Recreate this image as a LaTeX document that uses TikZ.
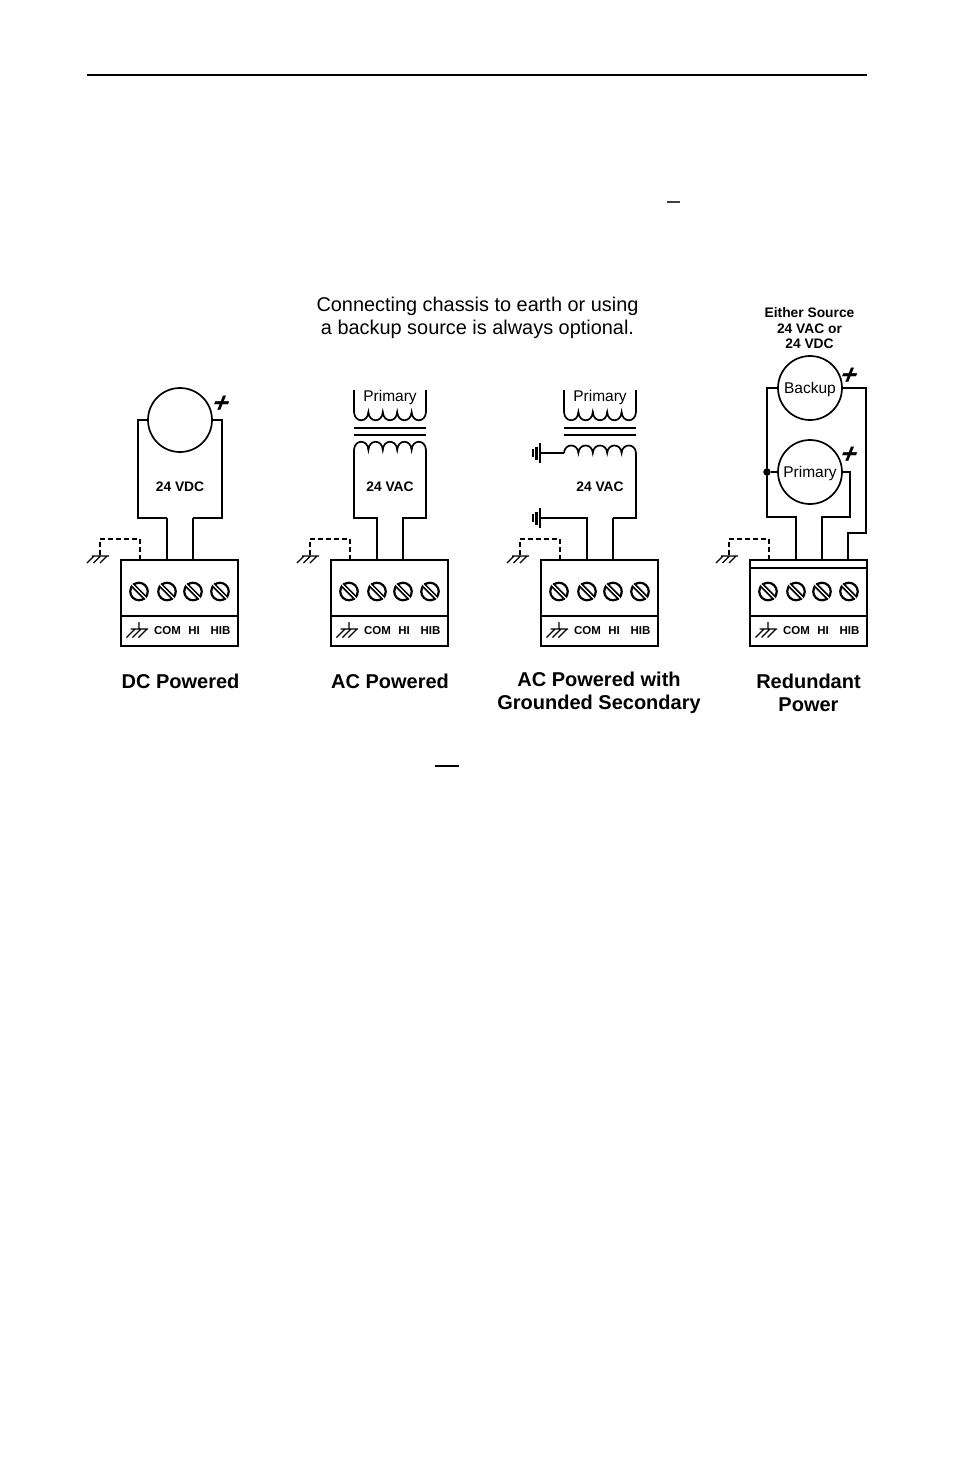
\documentclass[tikz,border=0pt]{standalone}
\usepackage{fontspec}
\setmainfont{Liberation Sans}
\newfontfamily\plusfont[BoldFeatures={FakeSlant=0.4}]{Liberation Sans}
\tikzset{
  wire/.style={line width=1.7pt,line join=miter},
  heavywire/.style={line width=2.1pt,line join=miter},
  thinline/.style={line width=1.2pt},
  dashwire/.style={line width=1.5pt,dash pattern=on 5pt off 3pt},
  blockbox/.style={draw,line width=1.6pt,minimum width=117pt,minimum height=86pt,inner sep=0pt,outer sep=0pt,anchor=north west},
  termlabel/.style={font=\bfseries\fontsize{11.5}{13}\selectfont,inner sep=0pt},
  srcval/.style={font=\bfseries\fontsize{13.8}{16}\selectfont,inner sep=0pt},
  srcname/.style={font=\fontsize{15.5}{17}\selectfont,inner sep=0pt},
  caption/.style={font=\bfseries\fontsize{20}{23}\selectfont,align=center,inner sep=0pt},
  note/.style={font=\fontsize{19.9}{23}\selectfont,align=center,inner sep=0pt},
  srcring/.style={circle,draw,line width=1.7pt,minimum size=64pt,inner sep=0pt,outer sep=0pt},
  plussign/.style={font=\plusfont\bfseries\fontsize{28}{28}\selectfont,inner sep=0pt},
}
\newcommand{\termblock}[2]{%
  \begin{scope}[shift={(#2,0)},name prefix=#1-]
    \node[blockbox] (box) at (121,560) {};
    \coordinate (dl) at (121,616);
    \coordinate (dr) at (238,616);
    \draw[wire] (dl) -- (dr);
    \foreach \sx/\sn in {139/a,167/b,193/c,220/d}{
      \node[circle,draw,fill=white,line width=2.2pt,minimum size=17.5pt,inner sep=0pt] (screw\sn) at (\sx,591.5) {};
      \draw[line width=4.6pt] (screw\sn.135) -- (screw\sn.-45);
      \draw[white,line width=1.3pt] (screw\sn.135) -- (screw\sn.-45);
    }
    \draw[thinline] (139,622) -- (139,629) (130.5,629) -- (148,629)
      (135,629) -- (126.5,637.5) (141,629) -- (132.5,637.5) (147,629) -- (138.5,637.5);
    \node[termlabel] (com) at (167.5,631) {COM};
    \node[termlabel] (hi) at (194,631) {HI};
    \node[termlabel] (hib) at (220.5,631) {HIB};
    \coordinate (tc) at (140,560);
    \coordinate (tc1) at (140,539);
    \coordinate (tc2) at (100,539);
    \coordinate (tc3) at (100,556);
    \draw[dashwire] (tc) -- (tc1) -- (tc2) -- (tc3);
    \draw[thinline] (92,556) -- (109,556)
      (94,556) -- (87,563) (100.5,556) -- (93.5,563) (107,556) -- (100,563);
    \coordinate (p1) at (167,560);
    \coordinate (p2) at (193,560);
    \coordinate (p3) at (219,560);
  \end{scope}%
}
\newcommand{\coilpath}[3]{%
  \draw[wire] (#1,#2)
    \foreach \k in {0,1,2,3,4}{
      .. controls ({#1+14.4*\k+0.5},{#2+#3}) and ({#1+14.4*\k+13.9},{#2+#3}) .. ({#1+14.4*\k+14.4},#2)
    };%
}
\newcommand{\earthplate}[3]{%
  \coordinate (#1) at (#2,#3);
  \draw[line width=2.2pt] (#2,#3-10) -- (#2,#3+10);
  \draw[line width=2.2pt] (#2-3.5,#3-6.5) -- (#2-3.5,#3+6.5);
  \draw[line width=2.2pt] (#2-7,#3-4) -- (#2-7,#3+4);
}
\begin{document}
\begin{tikzpicture}[x=1pt,y=-1pt]
\useasboundingbox (0,0) rectangle (954,1475);
\fill[white] (0,0) rectangle (954,1475);
\coordinate (ruleL) at (87,75);
\coordinate (ruleR) at (867,75);
\draw[line width=2pt] (ruleL) -- (ruleR);
\coordinate (m1) at (667,202);
\coordinate (m2) at (680,202);
\draw[line width=1.1pt,black!75] (m1) -- (m2);
\coordinate (m3) at (435,766);
\coordinate (m4) at (459,766);
\draw[line width=1.4pt] (m3) -- (m4);
\node[note] (headnote) at (477.5,317.5) {Connecting chassis to earth or using\\[0pt]a backup source is always optional.};

% ---- DC powered
\termblock{a}{0}
\node[srcring] (dcsrc) at (180,420) {};
\node[plussign] (dcplus) at (218,404) {+};
\node[srcval] (dcval) at (180,487) {24 VDC};
\coordinate (a1) at (138,420);
\coordinate (a2) at (138,518);
\coordinate (a3) at (167,518);
\coordinate (a4) at (222,420);
\coordinate (a5) at (222,518);
\coordinate (a6) at (193,518);
\draw[wire] (dcsrc.west) -- (a1) -- (a2) -- (a3);
\draw[heavywire] (a3) -- (a-p1);
\draw[wire] (dcsrc.east) -- (a4) -- (a5) -- (a6);
\draw[heavywire] (a6) -- (a-p2);
\node[caption] (capa) at (180.5,681) {DC Powered};

% ---- AC powered
\termblock{b}{210}
\node[srcname] (bprim) at (390,397) {Primary};
\coordinate (bp1) at (354,390);
\coordinate (bp2) at (354,412);
\coordinate (bp3) at (426,390);
\coordinate (bp4) at (426,412);
\draw[wire] (bp1) -- (bp2);
\draw[wire] (bp3) -- (bp4);
\coilpath{354}{412}{11}
\coordinate (bb1) at (354,428); \coordinate (bb2) at (426,428);
\coordinate (bb3) at (354,435); \coordinate (bb4) at (426,435);
\draw[wire] (bb1) -- (bb2);
\draw[wire] (bb3) -- (bb4);
\coilpath{354}{450}{-11}
\coordinate (bs1) at (354,450); \coordinate (bs2) at (354,518); \coordinate (bs3) at (377,518);
\coordinate (bs4) at (426,450); \coordinate (bs5) at (426,518); \coordinate (bs6) at (403,518);
\draw[wire] (bs1) -- (bs2) -- (bs3) -- (b-p1);
\draw[wire] (bs4) -- (bs5) -- (bs6) -- (b-p2);
\node[srcval] (bval) at (390,487) {24 VAC};
\node[caption] (capb) at (390,681) {AC Powered};

% ---- AC powered with grounded secondary
\termblock{c}{420}
\node[srcname] (cprim) at (600,397) {Primary};
\coordinate (cp1) at (564,390);
\coordinate (cp2) at (564,412);
\coordinate (cp3) at (636,390);
\coordinate (cp4) at (636,412);
\draw[wire] (cp1) -- (cp2);
\draw[wire] (cp3) -- (cp4);
\coilpath{564}{412}{11}
\coordinate (cb1) at (564,428); \coordinate (cb2) at (636,428);
\coordinate (cb3) at (564,435); \coordinate (cb4) at (636,435);
\draw[wire] (cb1) -- (cb2);
\draw[wire] (cb3) -- (cb4);
\coilpath{564}{453}{-10}
\earthplate{ce1}{540}{453}
\earthplate{ce2}{540}{518}
\coordinate (cs1) at (564,453);
\draw[wire] (ce1) -- (cs1);
\coordinate (cs2) at (587,518);
\draw[wire] (ce2) -- (cs2) -- (c-p1);
\coordinate (cs4) at (636,453); \coordinate (cs5) at (636,518); \coordinate (cs6) at (613,518);
\draw[wire] (cs4) -- (cs5) -- (cs6);
\draw[heavywire] (cs6) -- (c-p2);
\node[srcval] (cval) at (600,487) {24 VAC};
\node[caption] (capc) at (599,693) {AC Powered with\\[0pt]Grounded Secondary};

% ---- Redundant
\termblock{d}{629}
\coordinate (dl1) at (750,568);
\coordinate (dl2) at (866,568);
\draw[thinline] (dl1) -- (dl2);
\node[srcval,font=\bfseries\fontsize{13.8}{15.5}\selectfont,align=center] (dsrc) at (809.5,328.5) {Either Source\\24 VAC or\\24 VDC};
\node[srcring] (backup) at (810,388) {};
\node[srcname] (backupt) at (810,389.5) {Backup};
\node[srcring] (primary) at (810,472) {};
\node[srcname] (primaryt) at (810,473) {Primary};
\node[plussign] (dplus1) at (846,376) {+};
\node[plussign] (dplus2) at (846,455) {+};
\coordinate (d1) at (767,388);
\coordinate (d2) at (767,517);
\coordinate (d3) at (796,517);
\node[circle,fill=black,minimum size=7.5pt,inner sep=0pt] (djoin) at (767,472) {};
\draw[wire] (backup.west) -- (d1) -- (d2) -- (d3) -- (d-p1);
\draw[wire] (djoin) -- (primary.west);
\coordinate (d4) at (850,472);
\coordinate (d5) at (850,517);
\coordinate (d6) at (822,517);
\draw[wire] (primary.east) -- (d4) -- (d5) -- (d6) -- (d-p2);
\coordinate (d7) at (866,388);
\coordinate (d8) at (866,533);
\coordinate (d9) at (848,533);
\draw[wire] (backup.east) -- (d7) -- (d8) -- (d9) -- (d-p3);
\node[caption] (capd) at (808.5,692.5) {Redundant\\[0pt]Power};
\end{tikzpicture}
\end{document}
